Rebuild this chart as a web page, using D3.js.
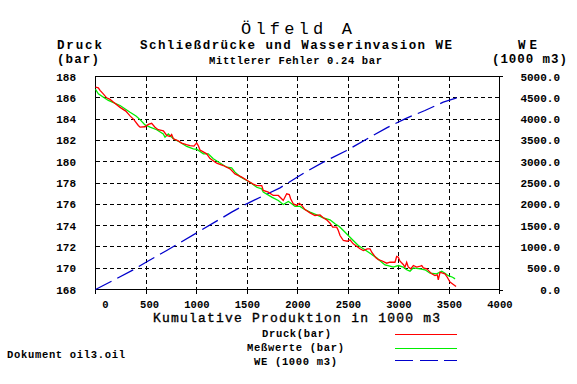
<!DOCTYPE html>
<html>
<head>
<meta charset="utf-8">
<script src="https://cdn.jsdelivr.net/npm/d3@7"></script>
<style>
  body { margin: 0; background: white; }
  svg { display: block; }
  text { font-family: "Liberation Mono", "DejaVu Sans Mono", monospace; fill: black; }
</style>
</head>
<body>
<svg width="577" height="384"></svg>
<script>
// Druck (bar) - berechnet
var druck = [
  [0,187.0],[28,186.94],[45,186.7],[77,186.37],[110,186.0],[144,185.85],[176,185.6],[243,185.1],
  [300,184.75],[342,184.3],[380,183.95],[424,183.4],[441,183.24],[490,183.28],[523,183.5],[556,183.6],
  [589,183.24],[620,183.0],[672,182.9],[705,182.46],[738,182.37],[754,182.55],[771,182.15],[820,181.95],
  [853,181.75],[900,181.6],[936,181.5],[975,181.46],[995,181.7],[1002,181.75],[1018,181.5],[1035,181.1],
  [1101,180.74],[1134,180.3],[1200,179.86],[1265,179.64],[1332,179.33],[1381,178.86],[1448,178.55],
  [1530,178.07],[1562,177.9],[1596,177.76],[1646,177.76],[1661,177.3],[1711,177.14],[1760,176.83],
  [1810,176.83],[1843,176.52],[1859,176.36],[1893,176.99],[1919,176.92],[1932,176.52],[1958,176.05],
  [1992,175.9],[2018,176.1],[2042,175.9],[2074,175.5],[2124,175.2],[2173,174.95],[2223,175.0],
  [2255,174.73],[2289,174.54],[2322,174.22],[2348,173.85],[2388,173.85],[2404,173.54],[2421,173.07],
  [2454,172.6],[2493,172.53],[2520,172.67],[2552,172.29],[2586,172.07],[2619,171.82],[2652,171.66],
  [2691,171.82],[2718,171.82],[2735,171.5],[2777,170.97],[2800,170.8],[2834,170.7],[2883,170.47],
  [2916,170.56],[2965,170.56],[2982,171.1],[2998,171.03],[3015,170.66],[3047,170.35],[3064,170.1],
  [3081,170.56],[3097,170.1],[3121,169.94],[3147,170.25],[3180,170.1],[3206,170.16],[3230,170.25],
  [3246,170.03],[3279,169.94],[3329,169.47],[3361,169.3],[3384,169.37],[3394,168.9],[3411,169.62],
  [3437,169.53],[3460,169.47],[3483,169.15],[3510,168.69],[3543,168.47],[3570,168.28]
];

// Messwerte (bar)
var messwerte = [
  [0,186.8],[28,186.37],[127,185.75],[243,185.28],[342,184.65],[401,184.3],[441,183.95],[490,183.45],
  [540,183.24],[606,183.0],[671,182.6],[688,182.3],[721,182.6],[771,182.15],[837,181.83],[903,181.43],
  [968,181.2],[1002,181.17],[1068,180.74],[1117,180.74],[1166,180.27],[1299,179.48],[1348,179.42],
  [1381,179.02],[1431,178.6],[1530,178.07],[1596,177.6],[1646,177.45],[1661,177.14],[1745,176.67],
  [1810,176.36],[1859,175.98],[1909,176.26],[1943,176.05],[1975,175.8],[2025,175.8],[2058,175.58],
  [2124,175.26],[2190,175.0],[2255,174.73],[2322,174.54],[2371,174.17],[2414,173.92],[2454,173.54],
  [2503,173.07],[2552,172.6],[2602,172.13],[2652,171.82],[2718,171.4],[2784,170.97],[2817,170.7],
  [2866,170.3],[2916,170.2],[2948,170.1],[2998,170.25],[3047,170.1],[3081,169.85],[3114,169.72],
  [3147,170.03],[3213,169.94],[3262,169.85],[3312,169.53],[3378,169.47],[3428,169.72],[3460,169.53],
  [3493,169.3],[3536,169.15],[3560,169.0]
];

// WE (1000 m3)
var we = [
  [0,0],[160,195],[374,462],[500,641],[705,915],[1002,1331],[1348,1815],[1497,2012],[1827,2387],
  [2008,2653],[2107,2793],[2256,2989],[2487,3263],[2718,3575],[2883,3795],[3064,4007],[3262,4202],
  [3443,4397],[3576,4500]
];

var xTicks = [0,500,1000,1500,2000,2500,3000,3500,4000];
var yTicks = [168,170,172,174,176,178,180,182,184,186,188];
var weTicks = [0,500,1000,1500,2000,2500,3000,3500,4000,4500,5000];

var legendItems = [
  {name: "Druck(bar)", color: "red", dash: null},
  {name: "Meßwerte (bar)", color: "#00ee00", dash: null},
  {name: "WE (1000 m3)", color: "#0000cc", dash: "18,6.5"}
];

var svg = d3.select("svg");

var x = d3.scaleLinear().domain([0, 4000]).range([95.5, 499.5]);
var y = d3.scaleLinear().domain([168, 188]).range([289.5, 76.5]);
var y2 = d3.scaleLinear().domain([0, 5000]).range([289.5, 76.5]);

function px(v){ return Math.round(v - 0.5) + 0.5; }

// text helper: stretch to the width the old bitmap font had
function label(tx, ty, str, size, width, anchor){
    var t = svg.append("text")
        .attr("x", tx)
        .attr("y", ty)
        .attr("text-anchor", anchor || "start")
        .attr("font-size", size + "px")
        .attr("font-weight", "bold")
        .text(str);
    if (width) {
        t.attr("textLength", width).attr("lengthAdjust", "spacing");
    }
    return t;
}

// grid
var grid = svg.append("g").attr("shape-rendering", "crispEdges");
grid.selectAll(".vg")
    .data(xTicks.slice(1, -1))
    .enter()
    .append("line")
    .attr("x1", (d) => px(x(d)))
    .attr("x2", (d) => px(x(d)))
    .attr("y1", y(188))
    .attr("y2", y(168))
    .attr("stroke", "black")
    .attr("stroke-dasharray", "4,3");

grid.selectAll(".hg")
    .data(yTicks.slice(1, -1))
    .enter()
    .append("line")
    .attr("x1", x(0))
    .attr("x2", x(4000))
    .attr("y1", (d) => px(y(d)))
    .attr("y2", (d) => px(y(d)))
    .attr("stroke", "black")
    .attr("stroke-dasharray", "4,3");

// frame
grid.append("rect")
    .attr("x", x(0))
    .attr("y", y(188))
    .attr("width", x(4000) - x(0))
    .attr("height", y(168) - y(188))
    .attr("fill", "none")
    .attr("stroke", "black");

// bottom ticks
grid.selectAll(".bt")
    .data(xTicks)
    .enter()
    .append("line")
    .attr("x1", (d) => px(x(d)))
    .attr("x2", (d) => px(x(d)))
    .attr("y1", y(168))
    .attr("y2", y(168) + 4)
    .attr("stroke", "black");

grid.append("line")
    .attr("x1", x(4000)).attr("x2", x(4000) + 3)
    .attr("y1", y(168) + 1).attr("y2", y(168) + 1)
    .attr("stroke", "black");
grid.append("line")
    .attr("x1", x(4000)).attr("x2", x(4000) + 3)
    .attr("y1", y(188)).attr("y2", y(188))
    .attr("stroke", "black");

// tick labels
svg.append("g")
    .selectAll("text")
    .data(xTicks)
    .enter()
    .append("text")
    .attr("x", (d) => x(d) + 13)
    .attr("y", 307.5)
    .attr("text-anchor", "end")
    .attr("font-size", "10.5px")
    .attr("font-weight", "bold")
    .text((d) => d);

svg.append("g")
    .selectAll("text")
    .data(yTicks)
    .enter()
    .append("text")
    .attr("x", 76)
    .attr("y", (d) => y(d) + 4)
    .attr("text-anchor", "end")
    .attr("font-size", "11px")
    .attr("font-weight", "bold")
    .text((d) => d);

svg.append("g")
    .selectAll("text")
    .data(weTicks)
    .enter()
    .append("text")
    .attr("x", 560)
    .attr("y", (d) => y2(d) + 4)
    .attr("text-anchor", "end")
    .attr("font-size", "11px")
    .attr("font-weight", "bold")
    .text((d) => d.toFixed(1));

// lines
var lineP = d3.line().x((d) => x(d[0])).y((d) => y(d[1]));
var lineW = d3.line().x((d) => x(d[0])).y((d) => y2(d[1]));

svg.append("path")
    .attr("d", lineW(we))
    .attr("fill", "none")
    .attr("stroke", legendItems[2].color)
    .attr("stroke-width", 1.3)
    .attr("stroke-dasharray", legendItems[2].dash);

svg.append("path")
    .attr("d", lineP(messwerte))
    .attr("fill", "none")
    .attr("stroke", legendItems[1].color)
    .attr("stroke-width", 1.3);

svg.append("path")
    .attr("d", lineP(druck))
    .attr("fill", "none")
    .attr("stroke", legendItems[0].color)
    .attr("stroke-width", 1.3);

// titles
label(241, 34, "Ölfeld A", 17, 111).attr("font-weight", "normal");
label(140, 49, "Schließdrücke und Wasserinvasion WE", 12.5, 312);
label(209, 64, "Mittlerer Fehler 0.24 bar", 10.5, 173);

label(57, 49, "Druck", 12.5, 45);
label(57, 63, "(bar)", 12.5, 42);
label(518, 49, "WE", 12.5, 19);
label(492, 63, "(1000 m3)", 12.5, 75);

label(153, 322, "Kumulative Produktion in 1000 m3", 13, 287).attr("font-weight", "normal")
    .style("stroke", "black").style("stroke-width", 0.35);

label(7, 358, "Dokument oil3.oil", 10.5, 118);

// legend
var legend = svg.append("g").attr("class", "legend");
var legY = [334.5, 348.5, 360.5];
var legTextY = [337, 351, 364.5];
var legTextX = [262, 247, 254];
var legTextW = [69, 97, 83];

legendItems.forEach(function(d, i){
    label(legTextX[i], legTextY[i], d.name, 10.5, legTextW[i]);
});

legend.selectAll("line")
    .data(legendItems)
    .enter()
    .append("line")
    .attr("x1", 395)
    .attr("x2", 457)
    .attr("y1", (d, i) => legY[i])
    .attr("y2", (d, i) => legY[i])
    .attr("stroke", (d) => d.color)
    .attr("stroke-width", 1.3)
    .attr("stroke-dasharray", (d) => d.dash)
    .attr("shape-rendering", "crispEdges");
</script>
</body>
</html>
